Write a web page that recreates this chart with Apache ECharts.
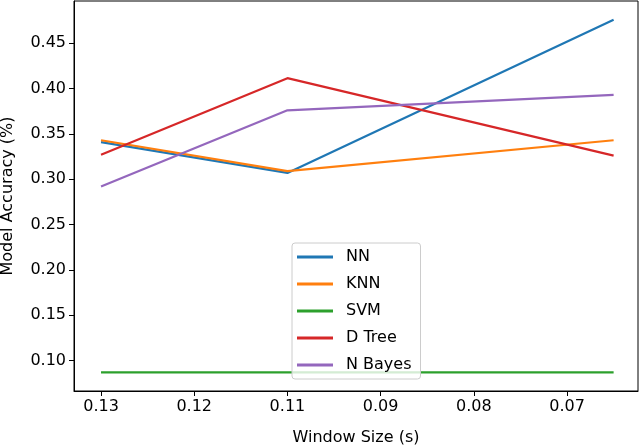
<!DOCTYPE html>
<html lang="en" style="height: 100%">
<head>
    <meta charset="UTF-8">
    <title>Model Accuracy vs Window Size</title>
    <script src="https://cdn.jsdelivr.net/npm/echarts@6/dist/echarts.min.js"></script>
</head>
<body style="height: 100%; margin: 0">
<div id="main" style="width: 640px; height: 448px"></div>
<script>
    // window sizes (s), the x axis runs from large to small
    var windowSizes = [0.13, 0.106, 0.064];
    var nn = [0.341, 0.307, 0.476];
    var knn = [0.343, 0.309, 0.343];
    var svm = [0.087, 0.087, 0.087];
    var dTree = [0.327, 0.4115, 0.326];
    var nBayes = [0.292, 0.376, 0.393];
    // tick positions as matplotlib placed them
    var xTicks = [0.13, 0.118, 0.106, 0.094, 0.082, 0.07];
    var yTicks = [0.10, 0.15, 0.20, 0.25, 0.30, 0.35, 0.40, 0.45];

    var names = ['NN', 'KNN', 'SVM', 'D Tree', 'N Bayes'];
    var values = [nn, knn, svm, dTree, nBayes];
    var colors = ['#1f77b4', '#ff7f0e', '#2ca02c', '#d62728', '#9467bd'];

    function pairs(ys) {
        return ys.map(function (y, i) { return [windowSizes[i], y]; });
    }

    var font = 'DejaVu Sans';
    var myoption = {
        animation: false,
        color: colors,
        grid: {
            left: 74, top: 1, right: 2, bottom: 57,
            outerBoundsMode: 'none',
            show: true, borderColor: '#000', borderWidth: 1
        },
        legend: {
            orient: 'vertical',
            left: 292, top: 243,
            icon: 'rect',
            itemWidth: 36, itemHeight: 3,
            itemGap: 11,
            padding: [6, 9, 6, 5],
            backgroundColor: 'rgba(255,255,255,0.8)',
            borderColor: '#ccc', borderWidth: 1, borderRadius: 3,
            textStyle: {fontFamily: font, fontSize: 16, color: '#000', padding: [0, 0, 0, 8]},
            data: names
        },
        xAxis: {
            type: 'value',
            inverse: true,
            min: 0.06086, max: 0.13348,
            name: 'Window Size (s)',
            nameLocation: 'middle',
            nameGap: 39,
            nameTextStyle: {fontFamily: font, fontSize: 16, color: '#000'},
            axisLine: {lineStyle: {color: '#000'}},
            axisTick: {customValues: xTicks, length: 5, lineStyle: {color: '#000'}},
            axisLabel: {
                customValues: xTicks,
                fontFamily: font, fontSize: 16, color: '#000', margin: 8,
                formatter: function (v) { return v.toFixed(2); }
            },
            splitLine: {show: false}
        },
        yAxis: {
            type: 'value',
            min: 0.0665, max: 0.4966,
            name: 'Model Accuracy (%)',
            nameLocation: 'middle',
            nameGap: 58,
            nameTextStyle: {fontFamily: font, fontSize: 16, color: '#000'},
            axisLine: {show: true, lineStyle: {color: '#000'}},
            axisTick: {show: true, customValues: yTicks, length: 5, lineStyle: {color: '#000'}},
            axisLabel: {
                customValues: yTicks,
                fontFamily: font, fontSize: 16, color: '#000', margin: 8,
                formatter: function (v) { return v.toFixed(2); }
            },
            splitLine: {show: false}
        },
        series: names.map(function (n, i) {
            return {
                name: n,
                type: 'line',
                symbol: 'none',
                lineStyle: {width: 2.2},
                data: pairs(values[i])
            };
        })
    };
    var myChart = echarts.init(document.getElementById('main'));
    myChart.setOption(myoption);
</script>
</body>
</html>
